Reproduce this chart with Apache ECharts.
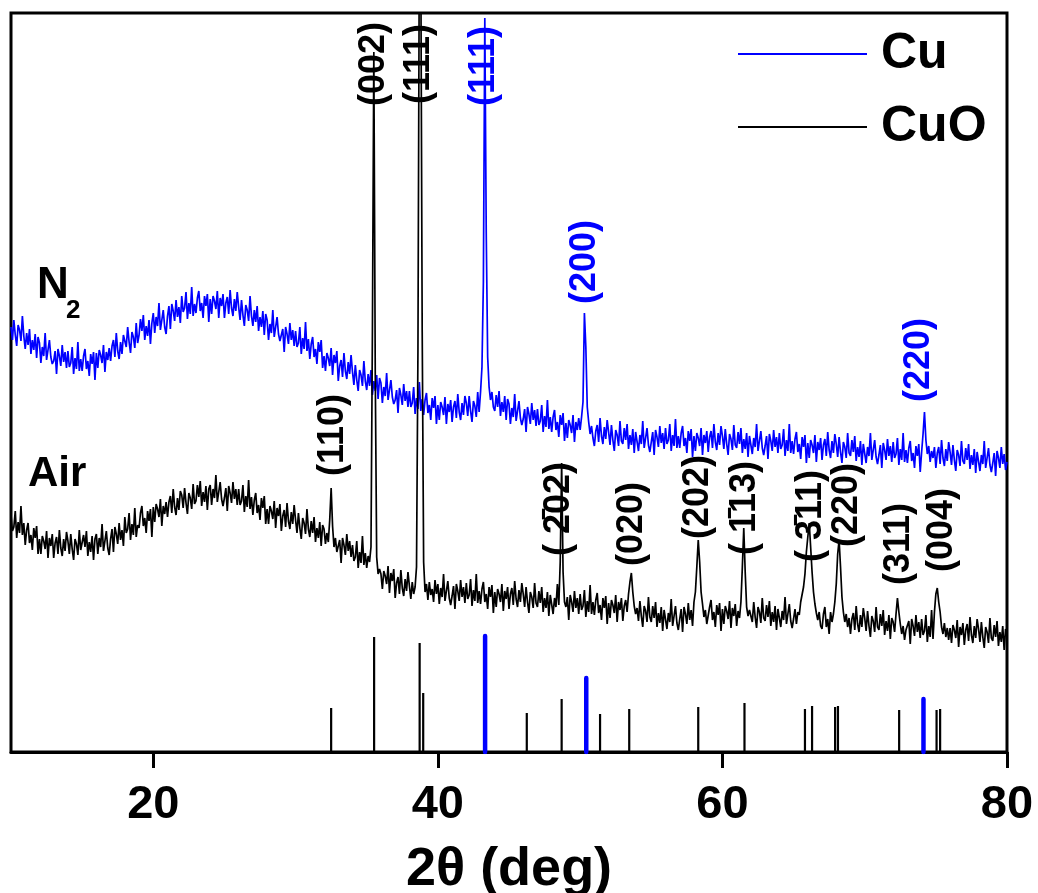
<!DOCTYPE html>
<html><head><meta charset="utf-8">
<script src="https://cdn.jsdelivr.net/npm/echarts@6/dist/echarts.min.js"></script>
<style>html,body{margin:0;padding:0;background:#fff}#c{width:1038px;height:893px}</style>
</head><body><div id="c"></div><script>
// sampling grid of the scans (2-theta, deg)
const xStart = 10, xStep = 0.1;
// N2-annealed sample (blue trace), intensity a.u., one value per 0.1 deg from 10 to 80
const n2 = [
425,412,432,417,406,427,422,411,436,416,
403,419,407,423,398,412,402,418,394,415,
409,389,405,396,419,392,402,412,395,388,
391,401,378,403,396,386,407,390,400,384,
401,385,389,405,378,394,383,410,381,393,
381,396,403,383,391,376,398,388,400,372,
399,384,402,397,389,407,380,400,392,404,
391,406,412,395,419,401,393,410,398,417,
418,405,425,410,399,420,415,404,429,409,
417,433,421,437,412,426,416,432,408,429,
439,419,435,426,449,422,432,442,425,418,
436,446,423,448,441,431,452,435,445,429,
456,440,444,460,433,449,438,465,436,448,
439,454,461,441,449,434,456,446,458,430,
453,438,456,451,443,461,434,454,446,458,
434,449,455,438,462,444,436,453,441,460,
445,432,452,437,426,447,442,431,456,436,
426,442,430,446,421,435,425,441,417,438,
432,412,428,419,442,415,425,435,418,411,
413,423,400,425,418,408,429,412,422,406,
421,405,409,425,398,414,403,430,401,413,
393,408,415,395,403,388,410,400,412,384,
396,381,399,394,386,404,377,397,389,401,
371,386,392,375,399,381,373,390,378,397,
380,367,387,372,361,382,377,366,391,371,
362,378,366,382,357,371,361,377,353,374,
369,349,365,356,379,352,362,372,355,348,
352,362,339,364,357,347,368,351,361,345,
361,345,349,365,338,354,343,370,341,353,
337,352,359,339,347,332,354,344,356,328,
347,332,350,345,337,355,328,348,340,352,
330,345,351,334,358,340,332,349,337,356,
349,336,356,341,330,351,346,335,360,340,
360,385,470,734,520,395,365,352,360,345,
341,357,345,361,336,350,340,356,332,353,
348,328,344,335,358,331,341,351,334,327,
333,343,320,345,338,328,349,332,342,326,
343,327,331,347,320,336,325,352,323,335,
320,335,342,322,330,315,337,327,339,311,
329,314,332,327,319,337,310,330,322,334,
322,335,350,439,405,345,330,318,326,314,
306,321,327,310,334,316,308,325,313,332,
320,307,327,312,301,322,317,306,331,311,
308,324,312,328,303,317,307,323,299,320,
321,301,317,308,331,304,314,324,307,300,
310,320,297,322,315,305,326,309,319,303,
324,308,312,328,301,317,306,333,304,316,
304,319,326,306,314,299,321,311,323,295,
316,301,319,314,306,324,297,317,309,321,
300,315,321,304,328,310,302,319,307,326,
316,303,323,308,297,318,313,302,327,307,
304,320,308,324,299,313,303,319,295,316,
318,298,314,305,328,301,311,321,304,297,
306,316,293,318,311,301,322,305,315,299,
319,303,307,323,296,312,301,328,299,311,
298,313,320,300,308,293,315,305,317,289,
309,294,312,307,299,317,290,310,302,314,
292,307,313,296,320,302,294,311,299,318,
308,295,315,300,289,310,305,294,319,299,
296,312,300,316,291,305,295,311,287,308,
309,289,305,296,319,292,302,312,295,288,
297,307,284,309,302,292,313,296,306,290,
310,294,298,314,287,303,292,319,290,302,
289,304,311,291,299,284,306,296,308,280,
300,318,340,312,298,306,290,301,294,305,
284,299,305,288,312,294,286,303,291,310,
300,287,307,292,281,302,297,286,311,291,
288,304,292,308,283,297,287,303,279,300,
301,281,297,288,311,284,294,304,287,280,
289,299,276,301,294,284,305,288,298,282,
290];
// Air-annealed sample (black trace)
const air = [
237,221,225,241,214,230,219,246,217,229,
207,222,229,209,217,202,224,214,226,198,
213,198,216,211,203,221,194,214,206,218,
194,209,215,198,222,204,196,213,201,220,
211,198,218,203,192,213,208,197,222,202,
201,217,205,221,196,210,200,216,192,213,
218,198,214,205,228,201,211,221,204,197,
213,223,200,225,218,208,229,212,222,206,
235,219,223,239,212,228,217,244,215,227,
224,239,246,226,234,219,241,231,243,215,
245,230,248,243,235,253,226,246,238,250,
235,250,256,239,263,245,237,254,242,261,
257,244,264,249,238,259,254,243,268,248,
251,267,255,271,246,260,250,266,242,263,
267,247,263,254,277,250,260,270,253,246,
254,264,241,266,259,249,270,253,263,247,
263,247,251,267,240,256,245,272,243,255,
237,252,259,239,247,232,254,244,256,228,
243,228,246,241,233,251,224,244,236,248,
221,236,242,225,249,231,223,240,228,247,
232,219,239,224,213,234,229,218,243,223,
215,231,219,235,210,224,214,230,206,227,
223,208,219,210,232,264,226,205,214,200,
202,212,189,214,207,197,218,201,211,195,
207,191,195,211,184,200,189,216,187,199,
184,196,190,205,420,700,380,195,178,183,
178,163,181,176,168,186,159,179,171,183,
154,169,175,158,182,164,156,173,161,180,
166,153,170,158,165,185,400,820,800,420,
190,160,168,152,170,157,163,150,172,158,
168,148,164,155,178,151,161,171,154,147,
156,166,143,168,161,151,172,155,165,149,
169,153,157,173,146,162,151,178,149,161,
148,163,170,150,158,143,165,155,167,139,
160,145,163,158,150,168,141,161,153,165,
143,158,164,147,171,153,145,162,150,169,
158,145,165,150,139,160,155,144,169,149,
145,161,149,165,140,154,144,160,136,157,
158,138,154,145,168,147,190,289,180,150,
145,155,132,157,150,140,161,144,154,138,
158,142,146,162,135,151,140,167,138,150,
137,152,159,139,147,132,154,144,156,128,
149,134,152,147,139,157,130,150,142,154,
131,146,152,140,158,170,179,160,146,138,
144,131,151,136,125,146,141,130,155,135,
130,146,134,150,125,139,129,145,121,142,
143,123,139,130,153,126,136,146,129,122,
133,143,120,145,138,128,149,132,142,126,
150,160,185,212,190,160,148,135,142,128,
130,145,152,132,140,125,147,137,149,121,
143,128,146,141,133,151,124,144,136,148,
126,141,134,150,185,224,180,145,136,142,
143,130,150,135,124,145,140,129,154,134,
131,147,135,151,126,140,130,146,122,143,
145,125,141,132,155,128,138,148,131,124,
133,143,128,140,137,150,148,165,178,200,
215,229,205,180,160,148,139,132,140,126,
123,138,145,125,133,118,140,130,138,150,
168,198,212,185,155,140,130,138,125,134,
118,133,139,122,146,128,120,137,125,144,
134,121,141,126,115,136,131,120,145,125,
122,138,126,142,117,131,121,137,113,134,
130,120,138,154,140,128,118,126,112,122,
121,131,108,133,126,116,137,120,130,114,
133,117,121,137,110,126,115,142,113,140,
158,164,150,140,125,118,129,115,124,112,
124,109,127,122,114,132,105,125,117,129,
107,122,128,111,135,117,109,126,114,133,
123,110,130,115,104,125,120,109,134,114,
111,127,115,131,106,120,110,126,102,123,
115];

// reference stick patterns
const cuPos = [43.32, 50.43, 74.13];
const cuH = [116, 74, 53];
const cuoPos = [32.5, 35.52, 38.72, 38.97, 46.25, 48.7, 51.4, 53.45, 58.3, 61.55, 65.8, 66.3, 67.92, 68.12, 72.42, 75.05, 75.3];
const cuoH = [44, 115, 109, 59, 39, 53, 38, 43, 45, 49, 43, 46, 45, 46, 42, 42, 43];

// tick labels
const xTicks = [20, 40, 60, 80];

// peak (hkl) annotations, anchored at data coordinates
const cuLabelText = ['(111)', '(200)', '(220)'];
const cuLabelX = [43.24, 50.34, 73.8];
const cuLabelY = [686, 490, 392];
const cuoLabelText = ['(002)', '(111)', '(110)', '(\u00a02\u030402)', '(020)', '(202)', '(\u00a01\u030413)', '(\u00a03\u030411)', '(220)', '(311)', '(004)'];
const cuoLabelX = [35.51, 38.68, 32.63, 48.51, 53.64, 58.28, 61.59, 66.22, 68.75, 72.41, 75.43];
const cuoLabelY = [688, 688, 317, 243, 228, 255, 244, 236, 247, 208, 222];

const FONT = '"Liberation Sans", Arial, sans-serif';
const BLUE = '#0000ff';

const scan = arr => arr.map((v, i) => [+(xStart + i * xStep).toFixed(1), v]);
const sticks = (pos, h) => { const d = []; pos.forEach((p, i) => { d.push([p, 0], [p, h[i]], [p, '-']); }); return d; };
const labels = (t, xs, ys) => t.map((s, i) => ({ name: s, value: [xs[i], ys[i]] }));

const labelStyle = color => ({
  show: true, formatter: '{b}', rotate: 90, position: 'inside', align: 'center', verticalAlign: 'middle',
  color: color, opacity: 1, textBorderWidth: 0, textBorderColor: 'transparent', textShadowBlur: 0,
  fontSize: 36, fontWeight: 'bold', fontFamily: FONT
});

const chart = echarts.init(document.getElementById('c'), null, { renderer: 'canvas' });
chart.setOption({
  animation: false,
  backgroundColor: '#fff',
  grid: { left: 11, right: 31, top: 13, bottom: 141, show: true, borderColor: '#000', borderWidth: 3, containLabel: false, outerBoundsMode: 'none' },
  legend: {
    data: ['Cu', 'CuO'], orient: 'vertical', left: 733, top: 24, itemWidth: 129, itemHeight: 2, icon: 'rect', itemGap: 23,
    textStyle: { fontSize: 50, fontWeight: 'bold', fontFamily: FONT, color: '#000', lineHeight: 50, padding: [0, 0, 0, 9] },
    selectedMode: false
  },
  xAxis: {
    type: 'value', min: 10, max: 80,
    axisLine: { show: true, onZero: false, lineStyle: { color: '#000', width: 3 } },
    axisTick: { show: true, customValues: xTicks, length: 16, lineStyle: { color: '#000', width: 3 } },
    axisLabel: { customValues: xTicks, fontSize: 47, fontWeight: 'bold', fontFamily: FONT, color: '#000', margin: 30 },
    splitLine: { show: false },
    name: '2θ (deg)', nameLocation: 'middle', nameGap: 91,
    nameTextStyle: { fontSize: 54, fontWeight: 'bold', fontFamily: FONT, color: '#000' }
  },
  yAxis: { type: 'value', min: 0, max: 739, show: false },
  graphic: [
    { type: 'text', left: 37, top: 264, style: { text: 'N', font: 'bold 44px ' + FONT, fill: '#000' } },
    { type: 'text', left: 66, top: 298, style: { text: '2', font: 'bold 26px ' + FONT, fill: '#000' } },
    { type: 'text', left: 28, top: 453, style: { text: 'Air', font: 'bold 42px ' + FONT, fill: '#000' } }
  ],
  series: [
    { name: 'N2', type: 'line', data: scan(n2), showSymbol: false, symbol: 'none', lineStyle: { color: BLUE, width: 1.7 }, z: 2 },
    { name: 'Air', type: 'line', data: scan(air), showSymbol: false, symbol: 'none', lineStyle: { color: '#000', width: 1.7 }, z: 2 },
    { name: 'CuO', type: 'line', data: sticks(cuoPos, cuoH), showSymbol: false, symbol: 'none', color: '#000', lineStyle: { color: '#000', width: 2.2 }, z: 3 },
    { name: 'Cu', type: 'line', data: sticks(cuPos, cuH), showSymbol: false, symbol: 'none', color: BLUE, lineStyle: { color: BLUE, width: 4.5, cap: 'round' }, z: 3 },
    { name: 'cuLabels', type: 'scatter', data: labels(cuLabelText, cuLabelX, cuLabelY), symbolSize: 1, itemStyle: { color: 'rgba(0,0,0,0)' }, silent: true, z: 5, label: labelStyle(BLUE), emphasis: { disabled: true } },
    { name: 'cuoLabels', type: 'scatter', data: labels(cuoLabelText, cuoLabelX, cuoLabelY), symbolSize: 1, itemStyle: { color: 'rgba(0,0,0,0)' }, silent: true, z: 5, label: labelStyle('#000'), emphasis: { disabled: true } }
  ]
});
</script></body></html>
